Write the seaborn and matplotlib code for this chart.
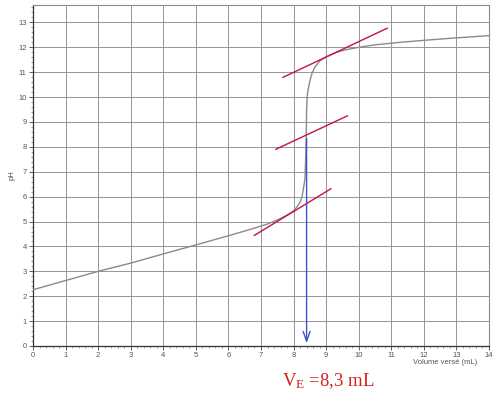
import numpy as np
import pandas as pd
import matplotlib
matplotlib.use("Agg")
import matplotlib.pyplot as plt
import seaborn as sns

# ---- data ----
volume = [0, 1, 2, 3, 4, 5, 6, 6.66, 7.2, 7.58, 7.85, 8.0, 8.1, 8.2, 8.26, 8.3,
          8.35, 8.37, 8.39, 8.4, 8.42, 8.45, 8.5, 8.56, 8.65, 8.81, 9.0, 9.32,
          9.6, 10.0, 10.5, 11.27, 12, 13, 14]
ph = [2.26, 2.63, 3.0, 3.33, 3.70, 4.06, 4.43, 4.68, 4.90, 5.11, 5.30, 5.43,
      5.58, 5.78, 6.00, 6.30, 6.70, 7.50, 8.50, 9.50, 10.05, 10.32, 10.65,
      10.93, 11.20, 11.46, 11.62, 11.80, 11.90, 12.00, 12.10, 12.20, 12.28,
      12.38, 12.47]

tangent_low_v = [6.79, 9.15]
tangent_low_ph = [4.44, 6.32]
tangent_mid_v = [7.45, 9.66]
tangent_mid_ph = [7.90, 9.25]
tangent_high_v = [7.67, 10.88]
tangent_high_ph = [10.79, 12.77]

v_eq_arrow = 8.4
ph_arrow_start = 8.45
x_ticks = list(range(0, 15))
y_ticks = list(range(0, 14))
ve_label = "=8,3 mL"

sns.set_style("white")
plt.rcParams["font.family"] = ["Liberation Sans", "DejaVu Sans"]
plt.rcParams["mathtext.fontset"] = "custom"
plt.rcParams["mathtext.rm"] = "Liberation Serif"

fig = plt.figure(figsize=(4.93, 3.93), dpi=100)
ax = fig.add_axes([33 / 493, 1 - 346 / 393, (489 - 33) / 493, (346 - 5) / 393])

df = pd.DataFrame({"Volume": volume, "pH": ph})
sns.lineplot(data=df, x="Volume", y="pH", sort=False, estimator=None,
             color="#8a8a8a", linewidth=1.0, ax=ax, zorder=3)

red = "#c4133f"
for vx, py in [(tangent_low_v, tangent_low_ph), (tangent_mid_v, tangent_mid_ph),
               (tangent_high_v, tangent_high_ph)]:
    sns.lineplot(x=vx, y=py, color=red, linewidth=1.0, ax=ax, zorder=4,
                 estimator=None, sort=False)

ax.annotate("", xy=(v_eq_arrow, 0.0), xytext=(v_eq_arrow, ph_arrow_start),
            arrowprops=dict(arrowstyle="->,head_length=0.7,head_width=0.25",
                            color="#3a55d0", lw=1.0), zorder=5)

ax.set_xlim(0, 14)
ax.set_ylim(0, 13.7)
ax.set_xticks(x_ticks)
ax.set_yticks(y_ticks)
ax.set_xticks(np.arange(0, 14.01, 0.2), minor=True)
ax.set_yticks(np.arange(0, 13.7, 0.2), minor=True)
ax.grid(True, which="major", color="#959595", linewidth=0.7)
ax.tick_params(axis="both", which="major", labelsize=5.5, labelcolor="#555555",
               length=3, width=0.6, color="#444444", direction="out", pad=1.5)
ax.tick_params(axis="both", which="minor", length=1.5, width=0.5,
               color="#777777", direction="out")
ax.tick_params(axis="x", which="both", top=False, bottom=True)
ax.tick_params(axis="y", which="both", left=True, right=False)
ax.set_xlabel("")
ax.set_ylabel("")

for s in ["top", "right"]:
    ax.spines[s].set_color("#8c8c8c")
    ax.spines[s].set_linewidth(0.8)
for s in ["left", "bottom"]:
    ax.spines[s].set_color("#333333")
    ax.spines[s].set_linewidth(0.9)

fig.text(445 / 493, 1 - 362.5 / 393, "Volume versé (mL)", fontsize=5.5,
         color="#555555", ha="center", va="center")
fig.text(12 / 493, 1 - 175 / 393, "pH", fontsize=5.5, color="#555555",
         rotation=90, ha="center", va="center")
fig.text(282 / 493, 1 - 386 / 393, r"$\mathrm{V_E}$ " + ve_label,
         fontsize=13.5, color="#d42020", family="Liberation Serif",
         ha="left", va="baseline")

fig.savefig("out.png", dpi=100)
